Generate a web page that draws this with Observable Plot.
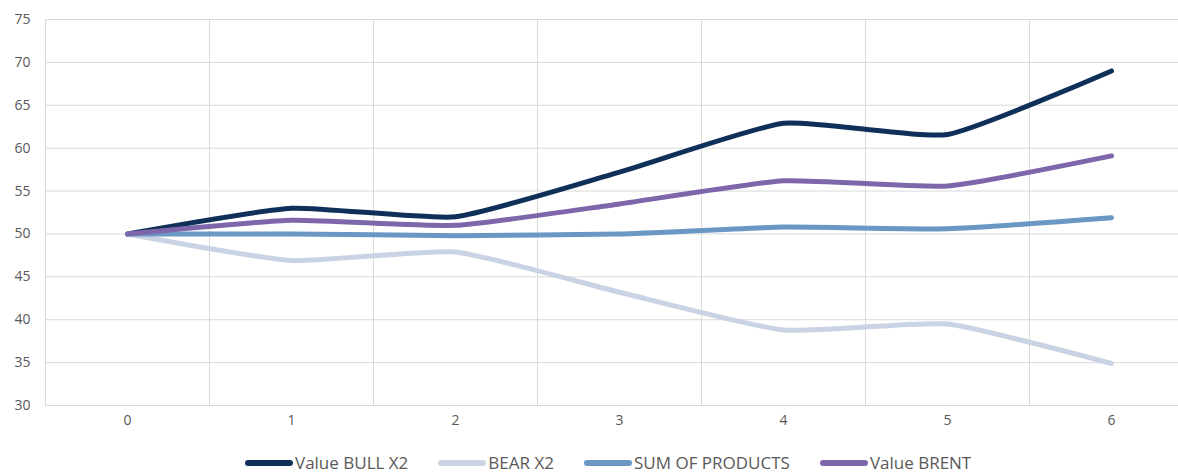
<!DOCTYPE html>
<html>
<head>
<meta charset="utf-8">
<script src="https://cdn.jsdelivr.net/npm/d3@7"></script>
<script src="https://cdn.jsdelivr.net/npm/@observablehq/plot@0.6"></script>
<style>
  html, body { margin: 0; padding: 0; background: #fff; }
  body { width: 1178px; height: 473px; overflow: hidden; font-family: "Open Sans", "Noto Sans", sans-serif; }
  #chart svg { display: block; }
  #legend { display: flex; justify-content: flex-start; align-items: center; height: 20px; line-height: 20px; margin-top: 13px; font-size: 17px; color: #595959; padding-left: 245px; gap: 30px; box-sizing: border-box; }
  .item { display: flex; align-items: center; white-space: nowrap; height: 20px; }
  .sw { display: inline-block; width: 48px; height: 6px; border-radius: 3px; margin-right: 2px; }
</style>
</head>
<body>
<div id="chart"></div>
<div id="legend"></div>
<script>
const steps = [0, 1, 2, 3, 4, 5, 6];
const seriesNames = ["Value BULL X2", "BEAR X2", "SUM OF PRODUCTS", "Value BRENT"];
const bullX2 = [50, 53.0, 52.0, 57.2, 62.9, 61.6, 69.0];
const bearX2 = [50, 46.9, 47.9, 43.2, 38.8, 39.5, 34.9];
const sumOfProducts = [50, 50.0, 49.8, 50.0, 50.8, 50.6, 51.9];
const valueBrent = [50, 51.6, 51.0, 53.5, 56.2, 55.6, 59.1];
const colors = ["#0f3059", "#c9d3e3", "#6b97c4", "#7e66ab"];
const yTicks = [30, 35, 40, 45, 50, 55, 60, 65, 70, 75];
const vGrid = [-0.5, 0.5, 1.5, 2.5, 3.5, 4.5, 5.5];

const allSeries = [bullX2, bearX2, sumOfProducts, valueBrent];
const data = [];
allSeries.forEach((vals, i) => vals.forEach((v, j) => data.push({series: seriesNames[i], x: steps[j], y: v})));

const W = 1178, H = 440, ML = 45, MT = 19, MB = 35;
const step = (1026 - 862);
const xRightDomain = -0.5 + (W - ML) / step;

const chart = Plot.plot({
  width: W,
  height: H,
  marginLeft: ML,
  marginRight: 0,
  marginTop: MT,
  marginBottom: MB,
  style: {fontFamily: "'Open Sans', 'Noto Sans', sans-serif", fontSize: "14px", color: "#595959", background: "#fff"},
  x: {type: "linear", domain: [-0.5, xRightDomain], axis: null},
  y: {domain: [30, 75], axis: null},
  color: {domain: seriesNames, range: colors},
  marks: [
    Plot.ruleY(yTicks, {stroke: "#d9d9d9", strokeWidth: 1}),
    Plot.ruleX(vGrid, {y1: 30, y2: 75, stroke: "#d9d9d9", strokeWidth: 1}),
    Plot.axisY(yTicks, {tickSize: 0, tickPadding: 15, fill: "#595959", fontSize: 14, label: null}),
    Plot.axisX(steps, {tickSize: 0, tickPadding: 10, fill: "#595959", fontSize: 14, label: null, tickFormat: d => String(d)}),
    Plot.line(data, {x: "x", y: "y", z: "series", stroke: "series", strokeWidth: 5, curve: "cardinal", tension: 0.5, strokeLinecap: "round", strokeLinejoin: "round"})
  ]
});
document.getElementById("chart").appendChild(chart);

const legend = document.getElementById("legend");
seriesNames.forEach((name, i) => {
  const item = document.createElement("div");
  item.className = "item";
  const sw = document.createElement("span");
  sw.className = "sw";
  sw.style.background = colors[i];
  const t = document.createElement("span");
  t.textContent = name;
  item.appendChild(sw);
  item.appendChild(t);
  legend.appendChild(item);
});
</script>
</body>
</html>
